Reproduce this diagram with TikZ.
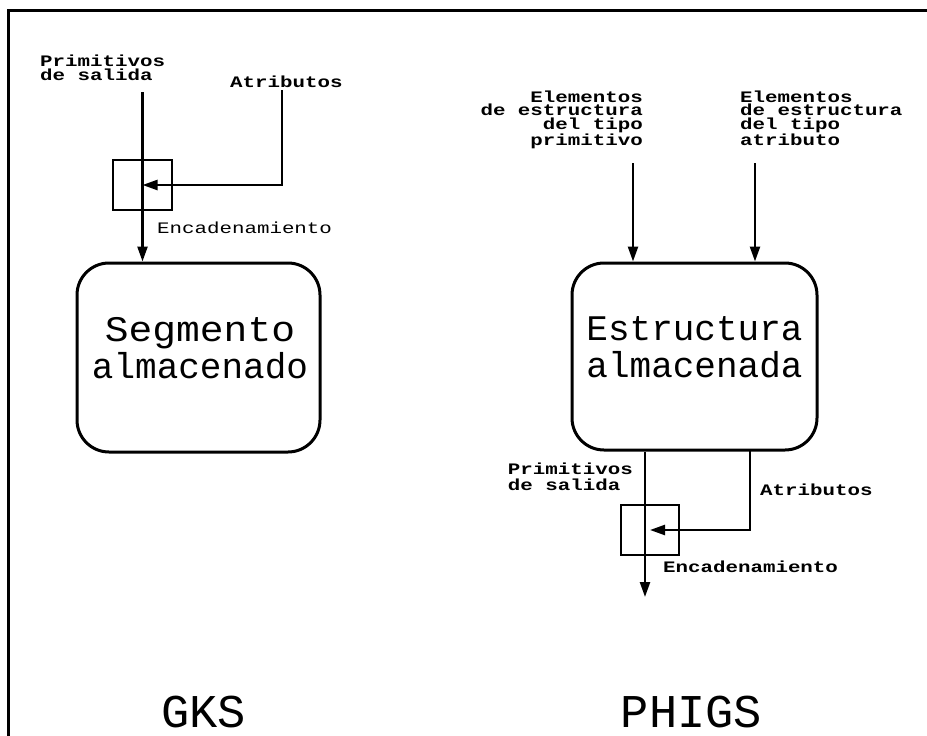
\documentclass[tikz,border=0pt]{standalone}
\usepackage{fontspec}
\usepackage{graphicx}
\usetikzlibrary{arrows.meta}
\newfontfamily\lblfont[FakeStretch=1.3]{Liberation Mono}
\newfontfamily\boxfont{Liberation Mono}
\begin{document}
\begin{tikzpicture}[x=1pt,y=-1pt,
  lbl/.style={font=\lblfont\bfseries\fontsize{16}{13.3}\selectfont, inner sep=0pt},
  lblthin/.style={font=\lblfont\fontsize{16}{13.3}\selectfont, inner sep=0pt},
  conn/.style={line width=2.4pt, -{Triangle[length=15pt,width=10pt]}},
  stored/.style={draw, line width=3pt, rounded corners=32pt, inner sep=0pt},
  boxtext/.style={align=center, inner sep=0pt, font=\boxfont\fontsize{36}{37}\selectfont},
  joint/.style={draw, line width=2pt, inner sep=0pt},
  title/.style={font=\boxfont\fontsize{47}{50}\selectfont, inner sep=0pt}]
\useasboundingbox (0,0) rectangle (927,736);
% frame
\draw[line width=3pt] (8,736) -- (8,10) -- (927,10);

% ---------------- GKS ----------------
\node[stored, minimum width=243pt, minimum height=189pt] (seg) at (198.5,357.5) {};
\node[boxtext, anchor=base] (segtxt) at (200,378) {\scalebox{1.1}[1]{Segmento}\\almacenado};
\node[joint, minimum width=59pt, minimum height=50pt] (k1) at (142.5,185) {};
\node[lbl, anchor=base west, align=left] (pri1) at (40,80) {Primitivos\\de salida};
\node[lbl, anchor=base west] (atr1) at (230,87) {Atributos};
\node[lblthin, anchor=base west] (enc1) at (157,233) {Encadenamiento};
\coordinate (p1) at (142.5,92);
\coordinate (a1) at (282,90);
\draw[conn] (p1) -- (p1 |- seg.north);
\draw[conn] (a1) |- (k1.center);
\node[title, anchor=base] (gks) at (203.5,727) {GKS};

% ---------------- PHIGS ----------------
\node[stored, minimum width=245pt, minimum height=187pt] (est) at (694.5,356.5) {};
\node[boxtext, anchor=base] (esttxt) at (694.5,377) {Estructura\\almacenada};
\node[joint, minimum width=58pt, minimum height=50pt] (k2) at (650,530) {};
\node[lbl, anchor=base east, align=right] (ep) at (643,145)
  {Elementos\\de estructura\\del tipo\\primitivo};
\node[lbl, anchor=base west, align=left] (ea) at (740,145)
  {Elementos\\de estructura\\del tipo\\atributo};
\coordinate (e1) at (633,163);
\coordinate (e2) at (755,163);
\draw[conn] (e1) -- (e1 |- est.north);
\draw[conn] (e2) -- (e2 |- est.north);
\node[lbl, anchor=base east, align=left, font=\lblfont\bfseries\fontsize{16}{16}\selectfont]
  (pri2) at (633,490) {Primitivos\\de salida};
\node[lbl, anchor=base west] (atr2) at (760,495) {Atributos};
\node[lbl, anchor=base west] (enc2) at (663,572) {Encadenamiento};
\coordinate (out) at (645,597);
\coordinate (a2) at (750,450);
\draw[conn] (est.south -| out) -- (out);
\draw[conn] (a2) |- (k2.center);
\node[title, anchor=base] (phigs) at (691.5,727) {PHIGS};
\end{tikzpicture}
\end{document}
